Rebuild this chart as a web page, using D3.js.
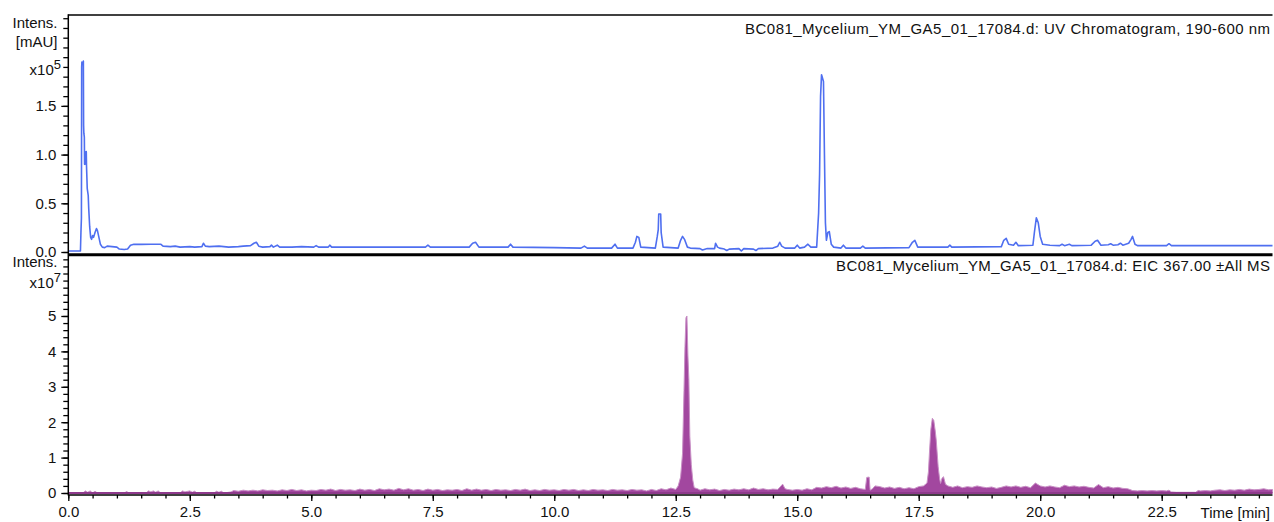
<!DOCTYPE html>
<html>
<head>
<meta charset="utf-8">
<script src="https://cdn.jsdelivr.net/npm/d3@7/dist/d3.min.js"></script>
<style>
  html, body { margin: 0; padding: 0; background: #fff; }
  svg { display: block; font-family: "Liberation Sans", Arial, sans-serif; }
  text { fill: #111; }
</style>
</head>
<body>
<svg id="chart" width="1274" height="522"></svg>
<script>
// Retention time ticks (min)
const timeTicks = [0, 2.5, 5, 7.5, 10, 12.5, 15, 17.5, 20, 22.5];
const uvTicks = [0, 0.5, 1.0, 1.5];      // x10^5 mAU
const eicTicks = [0, 1, 2, 3, 4, 5];     // x10^7

const uvTitle = "BC081_Mycelium_YM_GA5_01_17084.d: UV Chromatogram, 190-600 nm";
const eicTitle = "BC081_Mycelium_YM_GA5_01_17084.d: EIC 367.00 \u00b1All MS";

// UV chromatogram: [time (min), intensity (x10^5 mAU)]
const uvTrace = [
  [0.00,0.01],[0.25,0.01],[0.26,0.20],[0.27,0.35],[0.275,1.90],[0.28,1.95],[0.30,1.93],[0.31,1.96],
  [0.315,1.30],[0.32,1.22],[0.33,1.18],[0.335,0.90],[0.34,1.03],[0.345,0.92],[0.35,1.02],[0.36,0.90],
  [0.37,1.03],[0.375,0.88],[0.39,0.65],[0.41,0.58],[0.42,0.45],[0.44,0.26],[0.46,0.15],[0.48,0.13],
  [0.50,0.17],[0.52,0.15],[0.55,0.20],[0.58,0.24],[0.60,0.22],[0.63,0.15],[0.66,0.08],[0.70,0.05],
  [0.75,0.045],[0.80,0.06],[0.90,0.055],[1.00,0.05],[1.05,0.03],[1.15,0.025],[1.22,0.03],[1.28,0.07],
  [1.35,0.08],[1.50,0.078],[1.70,0.08],[1.90,0.08],[1.95,0.06],[2.10,0.055],[2.20,0.06],[2.30,0.05],
  [2.50,0.055],[2.60,0.05],[2.75,0.055],[2.78,0.09],[2.82,0.06],[2.90,0.055],[3.10,0.06],[3.30,0.05],
  [3.50,0.055],[3.60,0.06],[3.75,0.065],[3.82,0.09],[3.87,0.10],[3.92,0.06],[4.00,0.05],[4.15,0.055],
  [4.18,0.07],[4.22,0.05],[4.30,0.07],[4.35,0.05],[4.60,0.05],[4.80,0.055],[5.05,0.05],[5.10,0.065],
  [5.15,0.05],[5.35,0.05],[5.38,0.07],[5.42,0.05],[6.00,0.05],[7.00,0.05],[7.35,0.05],[7.40,0.07],
  [7.45,0.05],[8.25,0.05],[8.32,0.09],[8.38,0.10],[8.45,0.05],[9.05,0.05],[9.10,0.08],[9.15,0.05],
  [10.00,0.045],[10.55,0.04],[10.62,0.06],[10.68,0.04],[11.18,0.04],[11.25,0.08],[11.30,0.04],
  [11.62,0.04],[11.67,0.10],[11.70,0.16],[11.74,0.15],[11.78,0.05],[12.08,0.04],[12.12,0.16],
  [12.14,0.23],[12.15,0.39],[12.19,0.39],[12.20,0.20],[12.24,0.05],[12.55,0.04],[12.60,0.12],
  [12.64,0.16],[12.68,0.13],[12.74,0.05],[12.80,0.04],[13.00,0.035],[13.05,0.02],[13.15,0.035],
  [13.30,0.035],[13.32,0.09],[13.36,0.05],[13.40,0.04],[13.50,0.03],[13.55,0.015],[13.60,0.03],
  [13.80,0.035],[13.85,0.01],[13.90,0.035],[14.10,0.03],[14.15,0.015],[14.20,0.035],[14.50,0.04],
  [14.60,0.06],[14.64,0.10],[14.68,0.06],[14.75,0.04],[14.95,0.04],[15.00,0.07],[15.05,0.04],
  [15.15,0.05],[15.22,0.08],[15.28,0.05],[15.40,0.05],[15.44,0.40],[15.46,0.80],[15.48,1.60],
  [15.50,1.82],[15.54,1.75],[15.56,1.00],[15.58,0.30],[15.60,0.12],[15.63,0.20],[15.66,0.21],
  [15.70,0.08],[15.75,0.05],[15.90,0.04],[15.95,0.07],[16.00,0.04],[16.30,0.04],[16.35,0.06],
  [16.40,0.04],[17.30,0.045],[17.37,0.10],[17.42,0.12],[17.48,0.05],[18.10,0.05],[18.14,0.07],
  [18.18,0.05],[19.20,0.055],[19.25,0.12],[19.30,0.14],[19.35,0.08],[19.45,0.07],[19.50,0.10],
  [19.55,0.065],[19.85,0.07],[19.88,0.20],[19.92,0.35],[19.96,0.30],[20.00,0.16],[20.05,0.08],
  [20.20,0.07],[20.40,0.065],[20.45,0.08],[20.50,0.065],[20.60,0.08],[20.65,0.065],[21.05,0.07],
  [21.13,0.11],[21.18,0.12],[21.25,0.07],[21.40,0.075],[21.45,0.085],[21.50,0.07],[21.60,0.075],
  [21.65,0.09],[21.70,0.07],[21.82,0.09],[21.87,0.13],[21.90,0.16],[21.95,0.08],[22.00,0.065],
  [22.60,0.065],[22.65,0.085],[22.70,0.065],[24.78,0.065]
];

// Extracted ion chromatogram m/z 367.00: [time (min), intensity (x10^7)]
const eicTrace = [
  [0.0,0],[0.3,0],[0.35,0.06],[0.4,0.02],[0.45,0.06],[0.5,0],[0.55,0.05],[0.6,0],[1.15,0],[1.2,0.04],
  [1.25,0],[1.6,0],[1.65,0.06],[1.7,0.03],[1.75,0.06],[1.8,0.02],[1.85,0.06],[1.9,0],[2.3,0],[2.35,0.06],
  [2.4,0.03],[2.5,0.06],[2.55,0.02],[2.6,0.05],[2.65,0],[3.0,0],[3.05,0.05],[3.1,0.02],[3.15,0.05],[3.2,0],
  [3.35,0.03],[3.4,0.07],[3.5,0.05],[3.6,0.08],[3.7,0.06],[3.8,0.08],[3.9,0.06],[4.0,0.09],[4.1,0.07],
  [4.2,0.08],[4.3,0.06],[4.4,0.09],[4.5,0.07],[4.6,0.1],[4.7,0.07],[4.8,0.09],[4.9,0.06],[5.0,0.08],
  [5.1,0.07],[5.2,0.1],[5.3,0.08],[5.4,0.11],[5.5,0.07],[5.6,0.1],[5.7,0.08],[5.8,0.09],[5.9,0.07],
  [6.0,0.11],[6.1,0.08],[6.2,0.1],[6.3,0.07],[6.4,0.12],[6.5,0.09],[6.6,0.11],[6.7,0.08],[6.8,0.13],
  [6.9,0.09],[7.0,0.12],[7.1,0.08],[7.2,0.1],[7.3,0.07],[7.4,0.11],[7.5,0.08],[7.6,0.1],[7.7,0.07],
  [7.8,0.09],[7.9,0.08],[8.0,0.1],[8.1,0.07],[8.2,0.12],[8.3,0.08],[8.4,0.11],[8.5,0.08],[8.6,0.1],
  [8.7,0.07],[8.8,0.1],[8.9,0.08],[9.0,0.09],[9.1,0.07],[9.2,0.1],[9.3,0.08],[9.4,0.11],[9.5,0.07],
  [9.6,0.09],[9.7,0.07],[9.8,0.1],[9.9,0.08],[10.0,0.09],[10.1,0.07],[10.2,0.1],[10.3,0.08],[10.4,0.1],
  [10.5,0.07],[10.6,0.09],[10.7,0.07],[10.8,0.1],[10.9,0.08],[11.0,0.09],[11.1,0.07],[11.2,0.1],
  [11.3,0.08],[11.4,0.09],[11.5,0.07],[11.6,0.1],[11.7,0.08],[11.8,0.09],[11.9,0.06],[12.0,0.1],
  [12.1,0.07],[12.2,0.12],[12.3,0.09],[12.4,0.14],[12.5,0.1],[12.55,0.2],[12.6,0.45],[12.64,1.12],
  [12.67,2.9],[12.69,4.13],[12.71,4.95],[12.73,5.0],[12.75,3.9],[12.77,3.2],[12.79,1.6],[12.82,0.8],
  [12.85,0.37],[12.88,0.15],[12.95,0.12],[13.0,0.08],[13.1,0.12],[13.2,0.09],[13.3,0.11],[13.4,0.07],
  [13.5,0.1],[13.6,0.08],[13.7,0.11],[13.8,0.09],[13.9,0.12],[14.0,0.09],[14.1,0.14],[14.2,0.1],
  [14.3,0.12],[14.4,0.09],[14.5,0.11],[14.6,0.1],[14.7,0.25],[14.75,0.12],[14.8,0.1],[14.9,0.08],
  [15.0,0.1],[15.1,0.08],[15.2,0.12],[15.3,0.09],[15.4,0.16],[15.5,0.14],[15.6,0.18],[15.7,0.15],
  [15.8,0.19],[15.9,0.14],[16.0,0.17],[16.1,0.13],[16.2,0.16],[16.3,0.12],[16.4,0.1],[16.43,0.44],
  [16.48,0.45],[16.5,0.08],[16.55,0.12],[16.6,0.2],[16.7,0.18],[16.8,0.14],[16.9,0.17],[17.0,0.13],
  [17.1,0.16],[17.2,0.12],[17.3,0.15],[17.4,0.12],[17.5,0.18],[17.6,0.2],[17.67,0.28],[17.7,0.6],
  [17.72,1.12],[17.75,1.8],[17.78,2.11],[17.81,2.05],[17.84,1.75],[17.86,1.5],[17.9,0.74],[17.93,0.4],
  [17.95,0.27],[17.98,0.42],[18.01,0.46],[18.05,0.25],[18.1,0.2],[18.2,0.16],[18.3,0.2],[18.4,0.15],
  [18.5,0.18],[18.6,0.16],[18.7,0.2],[18.8,0.17],[18.9,0.15],[19.0,0.17],[19.1,0.13],[19.2,0.16],
  [19.3,0.2],[19.4,0.17],[19.5,0.2],[19.6,0.16],[19.7,0.19],[19.8,0.15],[19.9,0.28],[20.0,0.2],
  [20.1,0.17],[20.2,0.2],[20.3,0.17],[20.4,0.15],[20.5,0.22],[20.6,0.18],[20.7,0.2],[20.8,0.17],
  [20.9,0.19],[21.0,0.16],[21.1,0.14],[21.2,0.24],[21.3,0.15],[21.4,0.18],[21.5,0.14],[21.6,0.16],
  [21.7,0.13],[21.8,0.12],[21.9,0.07],[22.0,0.06],[22.1,0.07],[22.2,0.06],[22.3,0.07],[22.4,0.06],
  [22.5,0.07],[22.6,0.06],[22.65,0.08],[22.7,0.03],[22.8,0.02],[23.0,0.02],[23.2,0.02],[23.25,0.07],
  [23.3,0.06],[23.4,0.07],[23.5,0.06],[23.6,0.08],[23.7,0.09],[23.8,0.07],[23.9,0.09],[24.0,0.08],
  [24.1,0.1],[24.2,0.08],[24.3,0.11],[24.4,0.09],[24.5,0.1],[24.6,0.12],[24.7,0.09],[24.78,0.1]
];

const svg = d3.select("#chart");
const left = 68.3, right = 1272.5;

// Shared time axis
const x = d3.scaleLinear().domain([0, 24.78]).range([left, right]);

// Upper panel (UV) and lower panel (EIC) intensity scales
const yUV = d3.scaleLinear().domain([0, 2.433]).range([252, 15]);
const yEIC = d3.scaleLinear().domain([0, 6.7]).range([493, 255.8]);

// ---------- traces ----------
svg.append("path")
  .datum(eicTrace)
  .attr("fill", "#a2479f")
  .attr("stroke", "#c990c6")
  .attr("stroke-width", 1)
  .attr("d", d3.area().x(d => x(d[0])).y0(yEIC(0)).y1(d => yEIC(d[1])));

svg.append("line")
  .attr("x1", x(0)).attr("x2", right)
  .attr("y1", yEIC(0)).attr("y2", yEIC(0))
  .attr("stroke", "#8e3a8c").attr("stroke-width", 2);

svg.append("path")
  .datum(uvTrace)
  .attr("fill", "none")
  .attr("stroke", "#4f6ff0")
  .attr("stroke-width", 1.6)
  .attr("stroke-linejoin", "round")
  .attr("d", d3.line().x(d => x(d[0])).y(d => yUV(d[1])));

// ---------- frame ----------
const frame = svg.append("g").attr("stroke", "#000");
frame.append("line").attr("x1", left).attr("x2", right).attr("y1", 15).attr("y2", 15).attr("stroke-width", 1.5);
frame.append("line").attr("x1", left).attr("x2", right).attr("y1", 254.8).attr("y2", 254.8).attr("stroke-width", 3);
frame.append("line").attr("x1", left).attr("x2", left).attr("y1", 14.3).attr("y2", 495.5).attr("stroke-width", 1.5);
frame.append("line").attr("x1", left).attr("x2", right).attr("y1", 495).attr("y2", 495).attr("stroke-width", 1.5);

// ---------- axes ----------
function styleAxis(g) {
  g.select(".domain").remove();
  g.selectAll(".tick line").attr("stroke", "#000").attr("stroke-width", 1.3);
  g.selectAll(".tick text").attr("font-size", 15).attr("fill", "#111")
    .attr("font-family", "Liberation Sans, Arial, sans-serif");
}

// UV y axis
svg.append("g").attr("transform", `translate(${left},0)`)
  .call(d3.axisLeft(yUV).tickValues(d3.range(0, 2.45, 0.1)).tickSize(5).tickFormat(""))
  .call(styleAxis);
svg.append("g").attr("transform", `translate(${left},0)`)
  .call(d3.axisLeft(yUV).tickValues(uvTicks).tickSize(7).tickPadding(5).tickFormat(d3.format(".1f")))
  .call(styleAxis);

// EIC y axis
svg.append("g").attr("transform", `translate(${left},0)`)
  .call(d3.axisLeft(yEIC).tickValues(d3.range(0, 6.65, 0.2)).tickSize(5).tickFormat(""))
  .call(styleAxis);
svg.append("g").attr("transform", `translate(${left},0)`)
  .call(d3.axisLeft(yEIC).tickValues(eicTicks).tickSize(7).tickPadding(5).tickFormat(d3.format("d")))
  .call(styleAxis);

// Time axis
svg.append("g").attr("transform", `translate(0,495)`)
  .call(d3.axisBottom(x).tickValues(d3.range(0, 24.75, 0.5)).tickSize(3.5).tickFormat(""))
  .call(styleAxis);
svg.append("g").attr("transform", `translate(0,495)`)
  .call(d3.axisBottom(x).tickValues(timeTicks).tickSize(6).tickPadding(5).tickFormat(d3.format(".1f")))
  .call(styleAxis);

// ---------- labels ----------
const txt = (xp, yp, s, anchor = "end", size = 15) =>
  svg.append("text").attr("x", xp).attr("y", yp).attr("text-anchor", anchor)
     .attr("font-size", size).text(s);

txt(57.5, 28, "Intens.");
txt(57.5, 47, "[mAU]");
txt(1270, 34, uvTitle).attr("textLength", 525).attr("lengthAdjust", "spacing");

txt(57.5, 266.5, "Intens.");
txt(1270, 270.5, eicTitle).attr("textLength", 434).attr("lengthAdjust", "spacing");

txt(1270, 518, "Time [min]");

function exponent(yp, p) {
  const t = svg.append("text").attr("x", 61).attr("y", yp).attr("text-anchor", "end").attr("font-size", 15);
  t.append("tspan").text("x10");
  t.append("tspan").attr("dy", -6).attr("font-size", 13).text(p);
}
exponent(75, "5");
exponent(287.5, "7");
</script>
</body>
</html>
